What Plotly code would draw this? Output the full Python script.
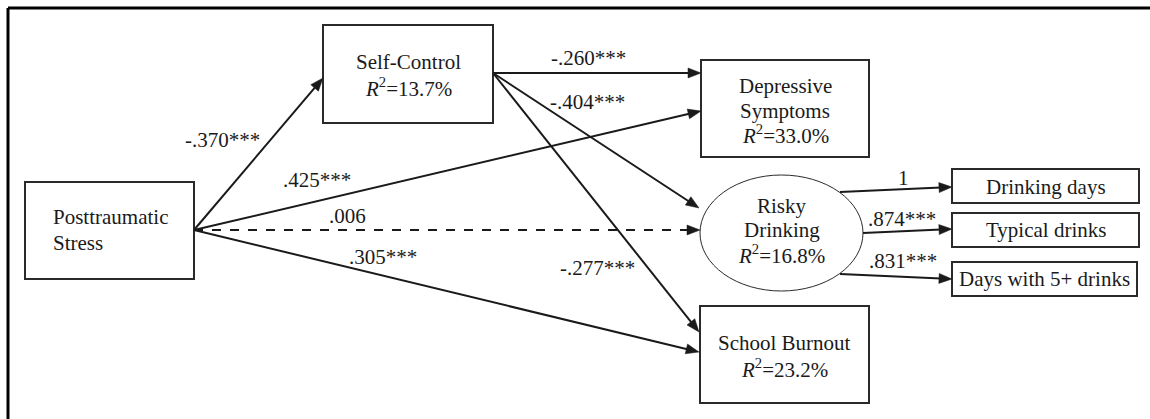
import math
import plotly.graph_objects as go

# ---- data ----
node_lines = [["Posttraumatic", "Stress"], ["Self-Control"], ["Depressive", "Symptoms"],
              ["Risky", "Drinking"], ["School Burnout"],
              ["Drinking days"], ["Typical drinks"], ["Days with 5+ drinks"]]
r2_values = [None, "13.7%", "33.0%", "16.8%", "23.2%", None, None, None]
path_from = ["PTS", "PTS", "PTS", "PTS", "SC", "SC", "SC", "RD", "RD", "RD"]
path_to = ["SC", "DS", "RD", "SB", "DS", "RD", "SB", "DD", "TD", "D5"]
path_coef = ["-.370***", ".425***", ".006", ".305***", "-.260***", "-.404***",
             "-.277***", "1", ".874***", ".831***"]
path_sig = [True, True, False, True, True, True, True, True, True, True]

# ---- layout geometry (pixels) ----
W, H = 1150, 419
FONT = "Liberation Serif, Times New Roman, serif"
FS = 21
INK = "#1a1a1a"

node_keys = ["PTS", "SC", "DS", "RD", "SB", "DD", "TD", "D5"]
boxes = {
    "PTS": (25, 182, 194, 279),
    "SC": (323, 25, 493, 123),
    "DS": (701, 60, 869, 157),
    "SB": (700, 306, 869, 403),
    "DD": (952, 169, 1139, 203),
    "TD": (952, 213, 1139, 247),
    "D5": (952, 262, 1137, 296),
}
ellipse = {"RD": (700, 175, 863, 291)}
# vertical centre of each text line inside each node
line_y = {
    "PTS": [217, 243],
    "SC": [62, 87],
    "DS": [86, 111, 134],
    "RD": [206, 230, 254],
    "SB": [343, 368],
    "DD": [187], "TD": [230], "D5": [279],
}

# endpoints of each path (start, tip)
path_pts = [
    ((194, 230), (323, 78)),
    ((194, 230), (701, 111)),
    ((194, 230), (700, 230)),
    ((194, 230), (699, 352)),
    ((493, 73), (701, 73)),
    ((493, 73), (699, 208)),
    ((493, 73), (699, 332)),
    ((840, 192), (952, 187)),
    ((863, 233), (952, 229)),
    ((840, 274), (952, 279)),
]
label_pos = [(222, 140), (317, 180), (347, 216), (383, 257), (588, 58),
             (587, 102), (597, 268), (903, 178), (902, 219), (903, 261)]

fig = go.Figure()
shapes = []
annotations = []

# outer frame (only top and left visible)
shapes.append(dict(type="line", x0=8, y0=8, x1=W + 5, y1=8, line=dict(color="black", width=3)))
shapes.append(dict(type="line", x0=8, y0=8, x1=8, y1=H + 5, line=dict(color="black", width=3)))

for i, k in enumerate(node_keys):
    if k in boxes:
        x0, y0, x1, y1 = boxes[k]
        shapes.append(dict(type="rect", x0=x0, y0=y0, x1=x1, y1=y1,
                           line=dict(color="#2a2a2a", width=2), fillcolor="white"))
    else:
        x0, y0, x1, y1 = ellipse[k]
        shapes.append(dict(type="circle", x0=x0, y0=y0, x1=x1, y1=y1,
                           line=dict(color="#2a2a2a", width=1), fillcolor="white"))
    lines = list(node_lines[i])
    if r2_values[i]:
        lines.append("<i>R</i><sup>2</sup>=" + r2_values[i])
    cx = (x0 + x1) / 2
    for t, ly in zip(lines, line_y[k]):
        if k == "PTS":
            annotations.append(dict(x=x0 + 26, y=ly, xref="x", yref="y", text=t, showarrow=False,
                                    xanchor="left", yanchor="middle",
                                    font=dict(family=FONT, size=FS, color=INK)))
        else:
            annotations.append(dict(x=cx, y=ly, xref="x", yref="y", text=t, showarrow=False,
                                    xanchor="center", yanchor="middle",
                                    font=dict(family=FONT, size=FS, color=INK)))

# arrows
AL, AW = 13, 5
for (p0, p1), sig in zip(path_pts, path_sig):
    dx, dy = p1[0] - p0[0], p1[1] - p0[1]
    L = math.hypot(dx, dy)
    ux, uy = dx / L, dy / L
    bx, by = p1[0] - ux * AL, p1[1] - uy * AL
    shapes.append(dict(type="line", x0=p0[0], y0=p0[1], x1=bx + ux * 2, y1=by + uy * 2,
                       line=dict(color=INK, width=2, dash="solid" if sig else "dash")))
    px, py = -uy, ux
    path = "M {:.2f} {:.2f} L {:.2f} {:.2f} L {:.2f} {:.2f} Z".format(
        p1[0], p1[1], bx + px * AW, by + py * AW, bx - px * AW, by - py * AW)
    shapes.append(dict(type="path", path=path, fillcolor=INK, line=dict(color=INK, width=0.5)))

for (lx, ly), c in zip(label_pos, path_coef):
    annotations.append(dict(x=lx, y=ly, xref="x", yref="y", text=c, showarrow=False,
                            xanchor="center", yanchor="middle",
                            font=dict(family=FONT, size=FS, color=INK)))

fig.update_layout(
    width=W, height=H, margin=dict(l=0, r=0, t=0, b=0),
    paper_bgcolor="white", plot_bgcolor="white",
    xaxis=dict(range=[0, W], visible=False, fixedrange=True),
    yaxis=dict(range=[H, 0], visible=False, fixedrange=True),
    shapes=shapes, annotations=annotations, showlegend=False,
)
fig.write_html("out.html", config={"displayModeBar": False},
               post_script="document.body.style.margin='0';document.body.style.overflow='hidden';")
